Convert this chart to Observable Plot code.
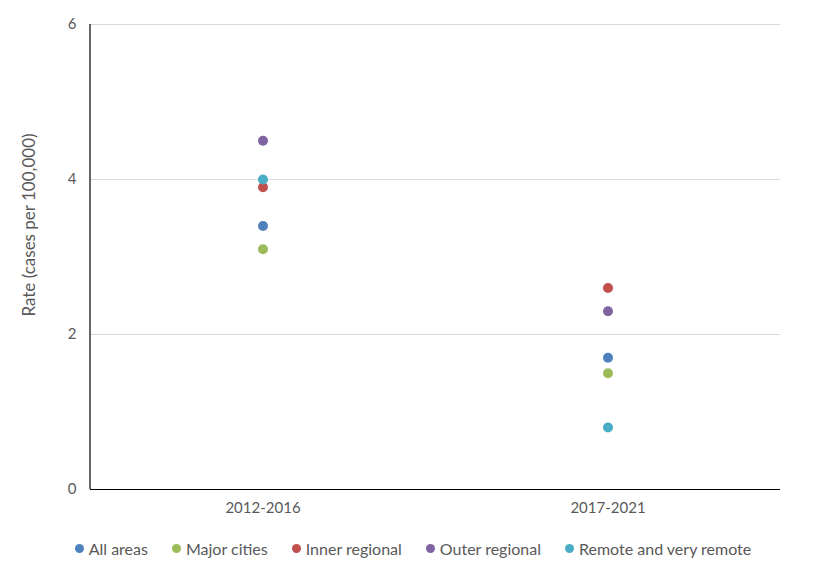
<!DOCTYPE html>
<html>
<head>
<meta charset="utf-8">
<script src="https://cdn.jsdelivr.net/npm/d3@7"></script>
<script src="https://cdn.jsdelivr.net/npm/@observablehq/plot@0.6"></script>
<style>
  html, body { margin: 0; padding: 0; background: #fff; }
  body { width: 826px; height: 570px; overflow: hidden; font-family: Lato, "Open Sans", sans-serif; }
  #legend { display: flex; justify-content: center; align-items: center; gap: 24px; height: 36px; font-size: 16px; color: #595959; margin-left: 0px; }
  #legend .item { display: flex; align-items: center; gap: 5px; }
  #legend .dot { width: 9px; height: 9px; border-radius: 50%; display: inline-block; }
</style>
</head>
<body>
<div id="chart"></div>
<div id="legend"></div>
<script>
const periods = ["2012-2016", "2017-2021"];
const seriesNames = ["All areas", "Major cities", "Inner regional", "Outer regional", "Remote and very remote"];
const seriesColors = ["#4F81BD", "#9BBB59", "#C0504D", "#8064A2", "#4BACC6"];
const allAreas = [3.4, 1.7];
const majorCities = [3.1, 1.5];
const innerRegional = [3.9, 2.6];
const outerRegional = [4.5, 2.3];
const remote = [4.0, 0.8];
const yTicks = [0, 2, 4, 6];
const yLabel = "Rate (cases per 100,000)";

const seriesValues = [allAreas, majorCities, innerRegional, outerRegional, remote];
const data = [];
seriesNames.forEach((s, i) => periods.forEach((p, j) => data.push({series: s, period: p, value: seriesValues[i][j]})));

const plot = Plot.plot({
  width: 826,
  height: 530,
  marginLeft: 90,
  marginRight: 46,
  marginTop: 24,
  marginBottom: 41,
  style: { fontFamily: "Lato, 'Open Sans', sans-serif", fontSize: "15px", color: "#595959", background: "#fff" },
  x: { type: "band", domain: periods, label: null, tickSize: 0, tickPadding: 13, paddingInner: 0, paddingOuter: 0 },
  y: { domain: [0, 6], ticks: yTicks, tickFormat: d3.format("d"), label: null, tickSize: 0, tickPadding: 14, grid: false },
  color: { domain: seriesNames, range: seriesColors },
  marks: [
    Plot.gridY(yTicks.filter(d => d > 0), { stroke: "#d9d9d9", strokeOpacity: 1, strokeWidth: 1 }),
    Plot.ruleY([0], { stroke: "#000", strokeWidth: 1.2 }),
    Plot.dot(data, { x: "period", y: "value", fill: "series", r: 5, stroke: "none" })
  ]
});
document.getElementById("chart").appendChild(plot);

// left axis line and y-axis title
const svg = d3.select(plot);
svg.append("line").attr("x1", 90).attr("x2", 90).attr("y1", 24).attr("y2", 489)
  .attr("stroke", "#000").attr("stroke-width", 1.2);
svg.append("text").text(yLabel)
  .attr("transform", "translate(35,225) rotate(-90)")
  .attr("text-anchor", "middle")
  .attr("fill", "#595959")
  .style("font-size", "17px");

const legend = document.getElementById("legend");
seriesNames.forEach((s, i) => {
  const item = document.createElement("span");
  item.className = "item";
  const dot = document.createElement("span");
  dot.className = "dot";
  dot.style.background = seriesColors[i];
  const label = document.createElement("span");
  label.textContent = s;
  item.appendChild(dot);
  item.appendChild(label);
  legend.appendChild(item);
});
</script>
</body>
</html>
